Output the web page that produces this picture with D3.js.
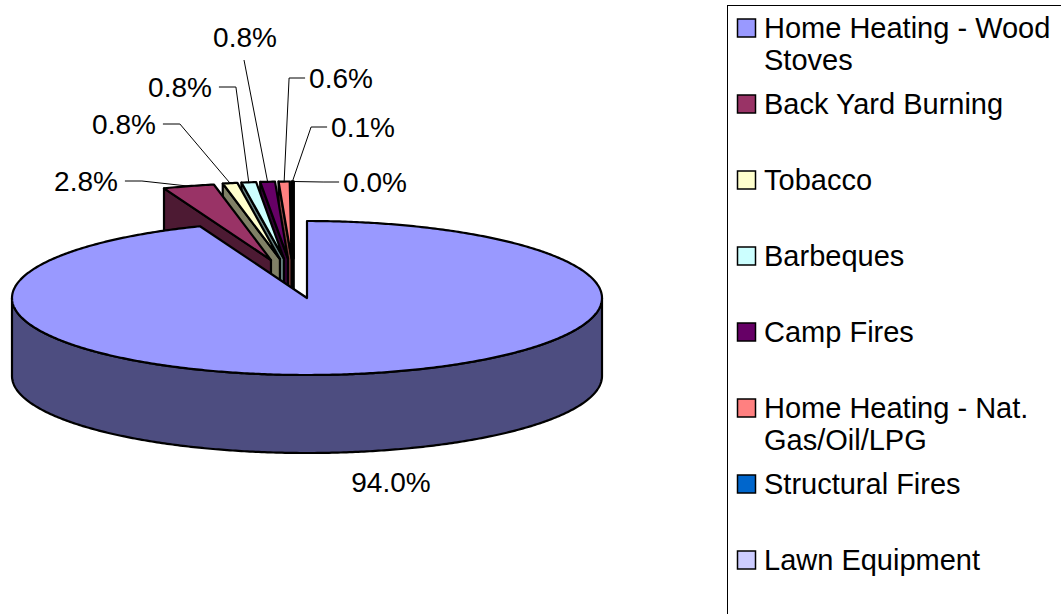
<!DOCTYPE html>
<html>
<head>
<meta charset="utf-8">
<script src="https://cdn.jsdelivr.net/npm/d3@7"></script>
<style>
	body { margin: 0; background: #fff; }
	svg { display: block; font-family: "Liberation Sans", Arial, sans-serif; }
</style>
</head>
<body>
<svg id="chart" width="1061" height="614"></svg>
<script>
var categories = ["Home Heating - Wood Stoves", "Back Yard Burning", "Tobacco", "Barbeques",
	"Camp Fires", "Home Heating - Nat. Gas/Oil/LPG", "Structural Fires", "Lawn Equipment"];
var shares = [94.0, 2.8, 0.8, 0.8, 0.8, 0.6, 0.1, 0.0];
var topColors = ["#9999ff", "#993366", "#ffffcc", "#ccffff", "#660066", "#ff8080", "#0066cc", "#ccccff"];
var sideColors = ["#4d4d80", "#4d1a33", "#808066", "#668080", "#330033", "#804040", "#003366", "#666680"];

// where Excel put the percentage labels (text centre) and which way the leader runs
var labelLayout = [
	{ x: 391, y: 482, side: "none" },
	{ x: 86, y: 181, side: "left" },
	{ x: 124, y: 124, side: "left" },
	{ x: 180, y: 87, side: "left" },
	{ x: 245, y: 37, side: "top" },
	{ x: 341, y: 78, side: "right" },
	{ x: 363, y: 127, side: "right" },
	{ x: 375, y: 182, side: "right" }
];

var svg = d3.select("#chart");

var cx = 307, cy = 298, rx = 295, ry = 77, depth = 78;
var blast = { x: 81, y: 39.5, shift: -13.4 };	// explosion of the small slices
var fontSize = 28, legendFont = 29;

var pie = d3.pie().sort(null).value(d => d).startAngle(0).endAngle(2 * Math.PI);
var slices = pie(shares);

function pt(a, off, dz) {
	return [cx + off[0] + rx * Math.sin(a), cy + off[1] - ry * Math.cos(a) + (dz || 0)];
}

function arcPts(a0, a1, off, dz) {
	var n = Math.max(2, Math.ceil(Math.abs(a1 - a0) / 0.01));
	return d3.range(n + 1).map(i => pt(a0 + (a1 - a0) * i / n, off, dz));
}

var line = d3.line();

slices.forEach((s, i) => {
	var mid = (s.startAngle + s.endAngle) / 2;
	s.index = i;
	s.mid = mid;
	s.off = i > 0 ? [blast.shift + blast.x * Math.sin(mid), -blast.y * Math.cos(mid)] : [0, 0];
});

var pieG = svg.append("g").attr("class", "pie");

// back slices first, the big one last
d3.range(slices.length).reverse().forEach(i => {
	var s = slices[i], off = s.off, a0 = s.startAngle, a1 = s.endAngle;
	var c = [cx + off[0], cy + off[1]];
	var g = pieG.append("g");
	var faces = [];

	// front part of the rim
	var f0 = Math.max(a0, Math.PI / 2), f1 = Math.min(a1, 3 * Math.PI / 2);
	if (f1 > f0) {
		faces.push(arcPts(f0, f1, off, 0).concat(arcPts(f1, f0, off, depth)));
	}
	// cut faces
	if (Math.sin(a0) < 0 || (a1 - a0 < 1e-6 && a0 > Math.PI)) {
		var p = pt(a0, off, 0);
		faces.push([p, c, [c[0], c[1] + depth], [p[0], p[1] + depth]]);
	}
	if (Math.sin(a1) > 0 && a1 < Math.PI) {
		var q = pt(a1, off, 0);
		faces.push([c, q, [q[0], q[1] + depth], [c[0], c[1] + depth]]);
	}
	faces.forEach(f => {
		g.append("path")
			.attr("d", line(f) + "Z")
			.attr("fill", sideColors[i])
			.attr("stroke", "#000")
			.attr("stroke-width", 2.2)
			.attr("stroke-linejoin", "round");
	});

	g.append("path")
		.attr("d", line([c].concat(arcPts(a0, a1, off, 0))) + "Z")
		.attr("fill", topColors[i])
		.attr("stroke", "#000")
		.attr("stroke-width", 2.2)
		.attr("stroke-linejoin", "round");
});

// percentage labels and leader lines
var fmt = d3.format(".1f");
var labels = svg.append("g").attr("class", "labels");

slices.forEach((s, i) => {
	var L = labelLayout[i];
	var txt = labels.append("text")
		.attr("x", L.x)
		.attr("y", L.y + fontSize * 0.36)
		.attr("text-anchor", "middle")
		.attr("font-size", fontSize + "px")
		.attr("fill", "#000")
		.text(fmt(s.data) + "%");
	if (L.side == "none") return;

	var w = txt.node().getComputedTextLength();
	var anchor = pt(s.mid, s.off, 0);
	var pts;
	if (L.side == "left") {
		var x0 = L.x + w / 2 + 7;
		pts = [[x0, L.y], [x0 + 17, L.y], anchor];
	} else if (L.side == "right") {
		var x1 = L.x - w / 2 - 4;
		pts = [[x1, L.y], [x1 - 16, L.y], anchor];
	} else {
		pts = [[L.x - 1, L.y + 23], anchor];
	}
	labels.append("path")
		.attr("d", line(pts))
		.attr("fill", "none")
		.attr("stroke", "#000")
		.attr("stroke-width", 1);
});

// legend
var legend = svg.append("g").attr("class", "legend");
legend.append("rect")
	.attr("x", 727.5)
	.attr("y", 5.5)
	.attr("width", 400)
	.attr("height", 700)
	.attr("fill", "#fff")
	.attr("stroke", "#000")
	.attr("stroke-width", 1);

var maxWidth = 292;

categories.forEach((name, i) => {
	var y = 28 + i * 76;
	legend.append("rect")
		.attr("x", 737.5)
		.attr("y", y - 9)
		.attr("width", 18)
		.attr("height", 18)
		.attr("fill", topColors[i])
		.attr("stroke", "#000")
		.attr("stroke-width", 1.5);

	var t = legend.append("text")
		.attr("x", 764)
		.attr("y", y + 9.5)
		.attr("font-size", legendFont + "px")
		.attr("fill", "#000");

	// wrap the way Excel does inside the legend box
	var words = name.split(" "), cur = [];
	var tspan = t.append("tspan").attr("x", 764).attr("dy", 0);
	words.forEach(wd => {
		cur.push(wd);
		tspan.text(cur.join(" "));
		if (tspan.node().getComputedTextLength() > maxWidth && cur.length > 1) {
			cur.pop();
			tspan.text(cur.join(" "));
			cur = [wd];
			tspan = t.append("tspan").attr("x", 764).attr("dy", 32).text(wd);
		}
	});
});
</script>
</body>
</html>
